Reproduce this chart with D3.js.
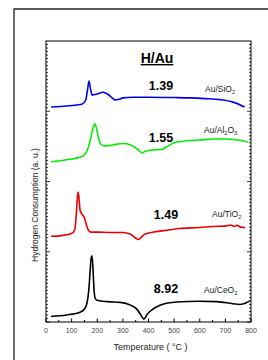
<!DOCTYPE html>
<html>
<head>
<meta charset="utf-8">
<script src="https://cdn.jsdelivr.net/npm/d3@7"></script>
<style>
  body { margin: 0; background: #fff; }
  text { font-family: "Liberation Sans", Arial, sans-serif; }
</style>
</head>
<body>
<svg width="268" height="360"></svg>
<script>
// TPR traces, [temperature °C, signal a.u.]
var siO2 = [[20,3.06],[80,3.075],[120,3.09],[140,3.10],[155,3.16],[163,3.33],[168,3.43],[173,3.33],[180,3.23],[200,3.245],[222,3.27],[240,3.245],[258,3.19],[270,3.16],[285,3.17],[300,3.19],[340,3.20],[400,3.20],[500,3.195],[560,3.19],[620,3.18],[680,3.165],[730,3.13],[775,3.06]];
var al2O3 = [[20,2.28],[80,2.31],[129,2.34],[150,2.38],[165,2.48],[175,2.62],[183,2.76],[190,2.82],[197,2.76],[205,2.62],[215,2.53],[230,2.505],[260,2.52],[300,2.54],[330,2.52],[360,2.45],[375,2.405],[390,2.435],[420,2.45],[450,2.455],[470,2.49],[500,2.55],[550,2.58],[600,2.59],[650,2.605],[700,2.605],[750,2.59],[790,2.56]];
var tiO2 = [[20,1.22],[60,1.23],[100,1.26],[112,1.31],[118,1.52],[122,1.74],[125,1.85],[128,1.79],[133,1.59],[140,1.54],[150,1.48],[158,1.38],[165,1.31],[175,1.28],[200,1.28],[250,1.275],[300,1.275],[330,1.25],[350,1.195],[360,1.175],[370,1.20],[385,1.25],[420,1.28],[480,1.31],[520,1.33],[600,1.345],[650,1.36],[700,1.365],[720,1.38],[735,1.36],[745,1.375],[760,1.35],[777,1.345]];
var ceO2 = [[20,0.08],[80,0.10],[133,0.14],[150,0.185],[160,0.27],[167,0.455],[172,0.71],[177,0.94],[180,0.94],[184,0.71],[188,0.43],[193,0.33],[200,0.31],[240,0.29],[290,0.28],[330,0.24],[355,0.18],[370,0.10],[382,0.04],[395,0.11],[412,0.17],[445,0.24],[510,0.285],[600,0.295],[666,0.29],[730,0.26],[757,0.25],[780,0.27],[795,0.30]];

var xTicks = [0, 100, 200, 300, 400, 500, 600, 700, 800];
var ratios = ["1.39", "1.55", "1.49", "8.92"];
var samples = [["Au/SiO", "2", ""], ["Au/Al", "2", "O", "3"], ["Au/TiO", "2", ""], ["Au/CeO", "2", ""]];
var colors = ["#0000ee", "#00ee00", "#ee0000", "#000000"];

var svg = d3.select('svg');

var x = d3.scaleLinear().domain([0, 800]).range([46, 251]);
var y = d3.scaleLinear().domain([0, 4]).range([322, 41]);

// outer frame (only top and left visible)
svg.append('path')
    .attr('d', 'M14,360 L14,9 L268,9')
    .attr('fill', 'none')
    .attr('stroke', '#222')
    .attr('stroke-width', 1.3);

// plot box
svg.append('rect')
    .attr('x', x(0)).attr('y', y(4))
    .attr('width', x(800) - x(0)).attr('height', y(0) - y(4))
    .attr('fill', 'none').attr('stroke', '#000').attr('stroke-width', 1);

// x ticks (inward)
var xMinor = d3.range(0, 801, 50);
svg.selectAll('.xt').data(xMinor).enter().append('line')
    .attr('x1', d => x(d)).attr('x2', d => x(d))
    .attr('y1', y(0)).attr('y2', d => y(0) - (d % 100 === 0 ? 3.5 : 2))
    .attr('stroke', '#000').attr('stroke-width', 1);

svg.selectAll('.xl').data(xTicks).enter().append('text')
    .attr('x', d => x(d)).attr('y', 333)
    .attr('text-anchor', 'middle')
    .attr('font-size', 7)
    .attr('fill', '#444')
    .text(d => d);

// y ticks both sides, inward
var yMinor = d3.range(0, 80).map(i => i * 0.05);
[x(0), x(800)].forEach(function(px, side) {
    var dir = side === 0 ? 1 : -1;
    svg.selectAll('.yt' + side).data(yMinor).enter().append('line')
        .attr('x1', px).attr('x2', d => px + dir * (Math.abs(d - Math.round(d)) < 1e-6 ? 4 : 2))
        .attr('y1', d => y(d)).attr('y2', d => y(d))
        .attr('stroke', '#000').attr('stroke-width', 0.8);
});

// curves
var line = d3.line().x(d => x(d[0])).y(d => y(d[1])).curve(d3.curveMonotoneX);
[siO2, al2O3, tiO2, ceO2].forEach(function(s, i) {
    svg.append('path')
        .datum(s)
        .attr('d', line)
        .attr('fill', 'none')
        .attr('stroke', colors[i])
        .attr('stroke-width', 1.6);
});

// title
svg.append('text')
    .attr('x', 157).attr('y', 63)
    .attr('text-anchor', 'middle')
    .attr('font-size', 14).attr('font-weight', 'bold')
    .attr('text-decoration', 'underline')
    .text('H/Au');

// ratios
var ratioPos = [[161, 90], [161, 142], [166, 219], [166, 293]];
ratios.forEach(function(r, i) {
    svg.append('text')
        .attr('x', ratioPos[i][0]).attr('y', ratioPos[i][1])
        .attr('text-anchor', 'middle')
        .attr('font-size', 12.5).attr('font-weight', 'bold')
        .text(r);
});

// sample labels with subscripts
var labelPos = [[205, 92], [204, 133], [212, 217], [204, 293]];
samples.forEach(function(s, i) {
    var t = svg.append('text')
        .attr('x', labelPos[i][0]).attr('y', labelPos[i][1])
        .attr('font-size', 8.5).attr('fill', '#222');
    for (var k = 0; k < s.length; k++) {
        if (!s[k]) continue;
        var sub = k % 2 === 1;
        t.append('tspan')
            .attr('font-size', sub ? 5.5 : 8.5)
            .attr('dy', sub ? 2 : (k > 0 ? -2 : 0))
            .text(s[k]);
    }
});

// axis titles
svg.append('text')
    .attr('x', x(400) + 2).attr('y', 350)
    .attr('text-anchor', 'middle')
    .attr('font-size', 9).attr('fill', '#222')
    .text('Temperature ( °C )');

svg.append('text')
    .attr('transform', 'translate(38,' + 205 + ') rotate(-90)')
    .attr('text-anchor', 'middle')
    .attr('font-size', 8.5).attr('fill', '#222')
    .text('Hydrogen Consumption (a. u.)');
</script>
</body>
</html>
